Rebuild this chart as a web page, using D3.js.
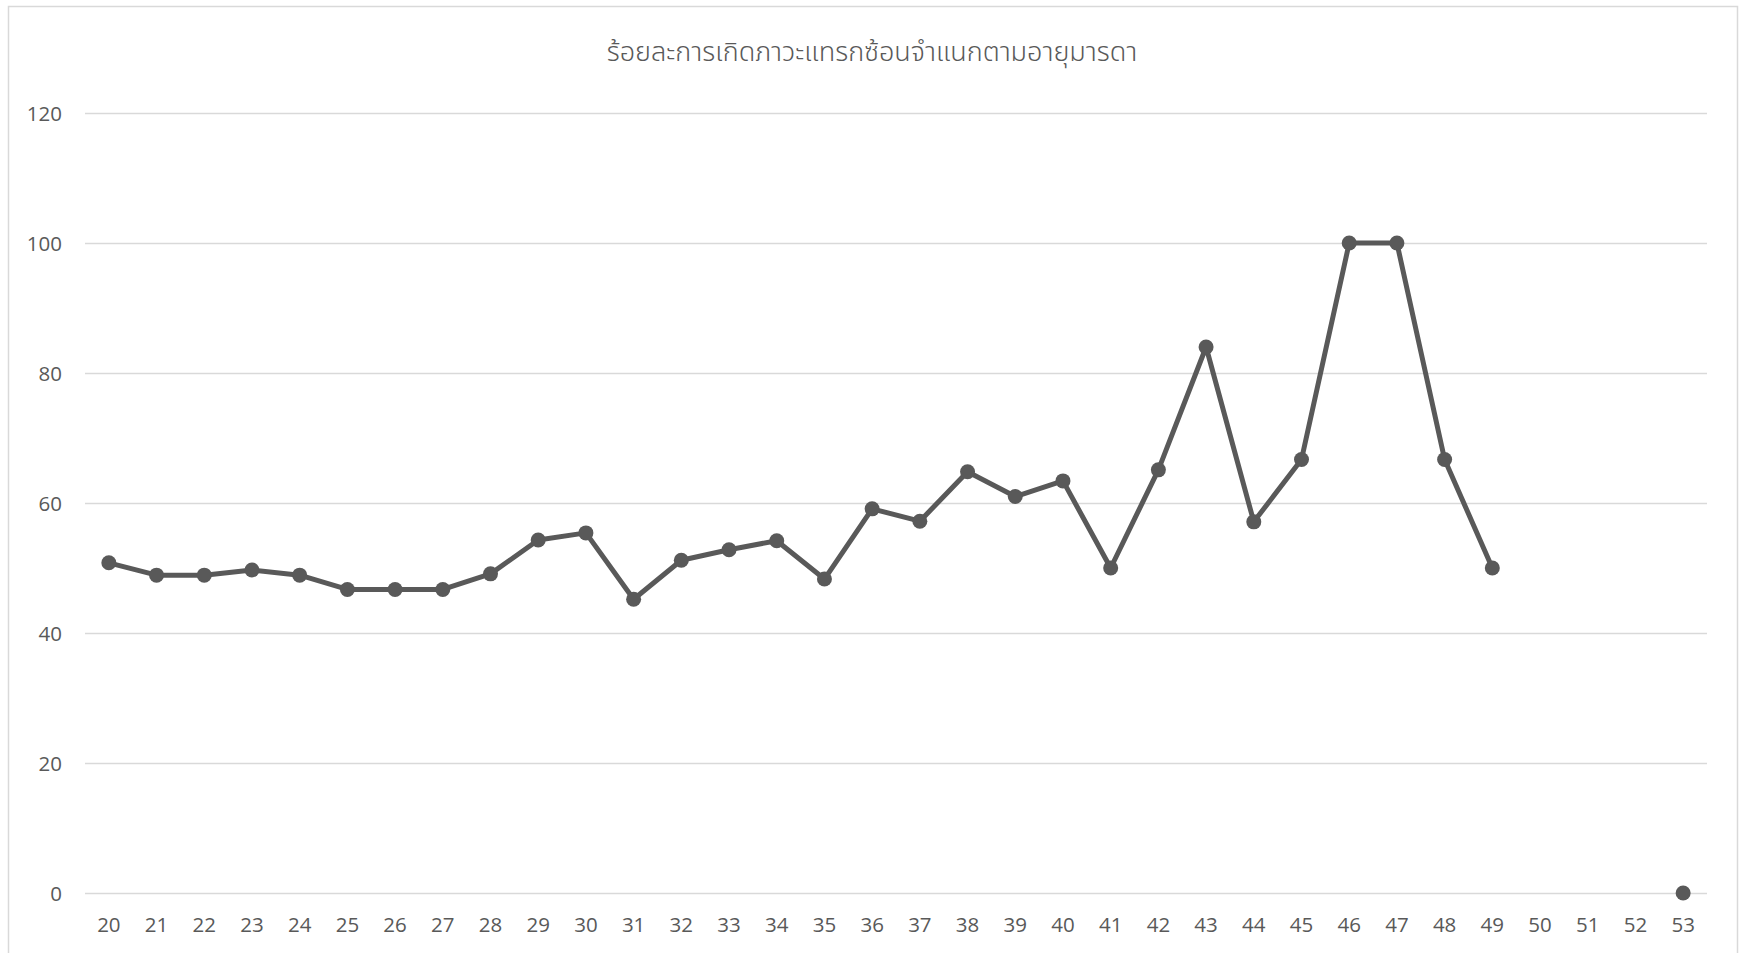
<!DOCTYPE html>
<html>
<head>
<meta charset="utf-8">
<script src="https://cdn.jsdelivr.net/npm/d3@7"></script>
<style>
  body { margin: 0; background: #fff; }
  svg text { fill: #595959; }
</style>
</head>
<body>
<script>
// ข้อมูล: อายุมารดา และ ร้อยละการเกิดภาวะแทรกซ้อน
var title = "ร้อยละการเกิดภาวะแทรกซ้อนจำแนกตามอายุมารดา";
var ages = ["20","21","22","23","24","25","26","27","28","29","30","31","32","33","34","35","36",
            "37","38","39","40","41","42","43","44","45","46","47","48","49","50","51","52","53"];
var percents = [50.8, 48.9, 48.9, 49.7, 48.9, 46.7, 46.7, 46.7, 49.1, 54.3, 55.4, 45.2, 51.2, 52.8,
                54.2, 48.3, 59.1, 57.2, 64.8, 61.0, 63.4, 50, 65.1, 84, 57.1, 66.7, 100, 100, 66.7, 50,
                null, null, null, 0];
var yTicks = [0, 20, 40, 60, 80, 100, 120];

var width = 1743, height = 953;
var plotLeft = 85, plotRight = 1707, plotTop = 113, plotBottom = 893;
var tickFont = '"Open Sans", "Noto Sans", sans-serif';

var data = [];
for (var i = 0; i < ages.length; i++) {
    data.push({ age: ages[i], value: percents[i] });
}

var svg = d3.select("body").append("svg").attr("width", width).attr("height", height);

// กรอบของแผนภูมิ
svg.append("rect")
    .attr("x", 8.5).attr("y", 6.5)
    .attr("width", 1729).attr("height", 960)
    .attr("fill", "none").attr("stroke", "#d9d9d9").attr("stroke-width", 1.5);

var x = d3.scaleBand().domain(ages).range([plotLeft, plotRight]);
var y = d3.scaleLinear().domain([0, 120]).range([plotBottom, plotTop]);

// เส้นตาราง
svg.append("g").selectAll("line").data(yTicks).enter().append("line")
    .attr("x1", plotLeft).attr("x2", plotRight)
    .attr("y1", function(d) { return y(d) + 0.5; })
    .attr("y2", function(d) { return y(d) + 0.5; })
    .attr("stroke", "#d9d9d9").attr("stroke-width", 1.3);

// แกน y
var yAxis = svg.append("g").attr("transform", "translate(" + (plotLeft - 23) + ",0)")
    .call(d3.axisLeft(y).tickValues(yTicks).tickSize(0).tickPadding(0));
yAxis.select(".domain").remove();
yAxis.selectAll("text").attr("dy", "0.35em");

// แกน x
var xAxis = svg.append("g").attr("transform", "translate(0," + plotBottom + ")")
    .call(d3.axisBottom(x).tickSize(0).tickPadding(24));
xAxis.select(".domain").remove();

svg.selectAll(".tick text")
    .attr("font-size", 20.5)
    .attr("font-family", tickFont)
    .attr("fill", "#595959");

// เส้นกราฟ
var line = d3.line()
    .defined(function(d) { return d.value !== null; })
    .x(function(d) { return x(d.age) + x.bandwidth() / 2; })
    .y(function(d) { return y(d.value); });

svg.append("path")
    .attr("fill", "none")
    .attr("stroke", "#595959")
    .attr("stroke-width", 5)
    .attr("stroke-linejoin", "round")
    .attr("d", line(data));

svg.append("g").selectAll("circle")
    .data(data.filter(function(d) { return d.value !== null; }))
    .enter().append("circle")
    .attr("cx", function(d) { return x(d.age) + x.bandwidth() / 2; })
    .attr("cy", function(d) { return y(d.value); })
    .attr("r", 7.5)
    .attr("fill", "#595959");

// ชื่อแผนภูมิ
svg.append("text")
    .attr("x", 872).attr("y", 61)
    .attr("text-anchor", "middle")
    .attr("font-size", 27)
    .attr("font-weight", 300)
    .attr("font-family", '"Noto Sans Thai", "Noto Sans", "DejaVu Sans", sans-serif')
    .text(title);
</script>
</body>
</html>
